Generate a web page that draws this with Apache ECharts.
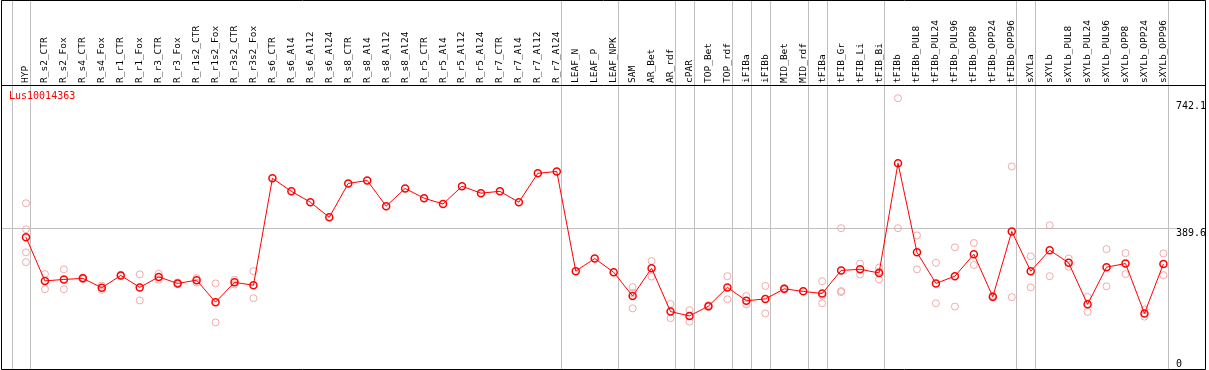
<!DOCTYPE html>
<html>
<head>
<meta charset="utf-8">
<script src="https://cdn.jsdelivr.net/npm/echarts@6/dist/echarts.min.js"></script>
<style>
    html, body { margin: 0; padding: 0; background: #fff; }
    #chart { width: 1209px; height: 370px; }
</style>
</head>
<body>
<div id="chart"></div>
<script>
// 样本名称
var categories = ['HYP','R_s2_CTR','R_s2_Fox','R_s4_CTR','R_s4_Fox','R_r1_CTR','R_r1_Fox','R_r3_CTR','R_r3_Fox',
    'R_r1s2_CTR','R_r1s2_Fox','R_r3s2_CTR','R_r3s2_Fox','R_s6_CTR','R_s6_Al4','R_s6_Al12','R_s6_Al24',
    'R_s8_CTR','R_s8_Al4','R_s8_Al12','R_s8_Al24','R_r5_CTR','R_r5_Al4','R_r5_Al12','R_r5_Al24',
    'R_r7_CTR','R_r7_Al4','R_r7_Al12','R_r7_Al24','LEAF_N','LEAF_P','LEAF_NPK','SAM','AR_Bet','AR_rdf',
    'cPAR','TOP_Bet','TOP_rdf','iFIBa','iFIBb','MID_Bet','MID_rdf','tFIBa','tFIB_Gr','tFIB_Li','tFIB_Bi',
    'tFIBb','tFIBb_PUL8','tFIBb_PUL24','tFIBb_PUL96','tFIBb_OPP8','tFIBb_OPP24','tFIBb_OPP96',
    'sXYLa','sXYLb','sXYLb_PUL8','sXYLb_PUL24','sXYLb_PUL96','sXYLb_OPP8','sXYLb_OPP24','sXYLb_OPP96'];
// 每组最后一个样本 (分隔线)
var groupEnds = ['HYP','R_r7_Al24','LEAF_NPK','AR_rdf','cPAR','TOP_rdf','iFIBa','iFIBb','MID_rdf',
    'tFIBa','tFIB_Bi','tFIBb_OPP96','sXYLa','sXYLb_OPP96'];
var geneName = 'Lus10014363';
// 平均值
var meanValues = [365,244,248,251,225,259,226,255,237,246,185,240,232,528,492,462,420,514,522,451,500,
    473,457,506,487,492,462,542,547,271,306,268,202,279,159,147,174,226,189,194,222,215,209,273,276,266,
    570,323,237,257,318,200,381,271,329,294,179,282,292,154,291];
// 重复值
var rep1 = [459,263,276,253,231,261,262,264,240,252,237,247,271,null,null,null,null,null,null,null,null,
    null,null,null,null,null,null,null,null,null,null,null,227,299,180,163,177,257,202,230,224,null,243,390,292,281,
    750,370,294,337,349,203,561,312,398,306,200,332,321,165,320];
var rep2 = [387,221,221,249,219,258,190,247,235,239,129,234,196,null,null,null,null,null,null,null,null,
    null,null,null,null,null,null,null,null,null,null,null,168,256,141,131,172,193,179,154,220,null,182,216,262,248,
    390,276,182,173,288,198,199,226,257,283,158,229,263,145,260];
var rep3 = [323,null,null,null,null,null,null,null,null,null,null,null,null,null,null,null,null,null,null,null,null,
    null,null,null,null,null,null,null,null,null,null,null,210,null,null,null,null,null,null,null,null,null,203,213,null,270,
    null,null,null,null,null,null,null,null,null,null,null,null,null,null,null];
var rep4 = [296,null,null,null,null,null,null,null,null,null,null,null,null,null,null,null,null,null,null,null,null,
    null,null,null,null,null,null,null,null,null,null,null,null,null,null,null,null,null,null,null,null,null,null,null,null,null,
    null,null,null,null,null,null,null,null,null,null,null,null,null,null,null];
var refValue = 389.6;
var tickValues = [389.6, 742.1];
var yMax = 786.5;

var monoFont = 'DejaVu Sans Mono';

function buildReps() {
    var pts = [];
    [rep1, rep2, rep3, rep4].forEach(function (arr) {
        arr.forEach(function (v, i) {
            if (v !== null) pts.push([categories[i], v]);
        });
    });
    return pts;
}

var chart = echarts.init(document.getElementById('chart'), null, {renderer: 'canvas'});

var option = {
    animation: false,
    backgroundColor: '#fff',
    title: {
        text: geneName,
        left: 9, top: 91, padding: 0,
        textStyle: {color: '#ff0000', fontSize: 10, fontWeight: 'normal', fontFamily: monoFont}
    },
    grid: {left: 16.5, right: 33.5, top: 85, bottom: 1},
    xAxis: {
        type: 'category',
        position: 'top',
        data: categories,
        boundaryGap: true,
        axisLine: {show: false},
        axisTick: {show: false},
        splitLine: {show: false},
        axisLabel: {
            interval: 0,
            rotate: 90,
            margin: 2,
            color: '#000',
            fontSize: 9.5,
            fontFamily: monoFont
        }
    },
    yAxis: [{
        type: 'value',
        position: 'right',
        min: 0, max: yMax,
        axisLine: {show: false},
        axisTick: {show: false},
        splitLine: {show: false},
        axisLabel: {
            customValues: tickValues,
            margin: 3,
            verticalAlign: 'top',
            color: '#000',
            fontSize: 10,
            fontFamily: monoFont
        }
    }, {
        type: 'value',
        position: 'right',
        min: 0, max: yMax,
        axisLine: {show: false},
        axisTick: {show: false},
        splitLine: {show: false},
        axisLabel: {
            customValues: [0],
            margin: 3,
            verticalAlign: 'bottom',
            color: '#000',
            fontSize: 10,
            fontFamily: monoFont
        }
    }],
    series: [{
        name: 'reps',
        type: 'scatter',
        data: buildReps(),
        symbol: 'circle',
        symbolSize: 7,
        itemStyle: {color: 'rgba(0,0,0,0)', borderColor: '#ef9696', borderWidth: 1},
        z: 2
    }, {
        name: 'mean',
        type: 'line',
        data: meanValues,
        symbol: 'circle',
        symbolSize: 7,
        lineStyle: {color: '#ff0000', width: 1},
        itemStyle: {color: 'rgba(255,0,0,0)', borderColor: '#ff0000', borderWidth: 1.5},
        z: 3
    }]
};
chart.setOption(option);

// 分隔线、边框
var step = chart.convertToPixel({xAxisIndex: 0}, categories[1]) - chart.convertToPixel({xAxisIndex: 0}, categories[0]);
var graphics = [];
var sepXs = [chart.convertToPixel({xAxisIndex: 0}, categories[0]) - step + 4.5];
groupEnds.forEach(function (name) {
    sepXs.push(chart.convertToPixel({xAxisIndex: 0}, name) + 4.5);
});
sepXs.forEach(function (x) {
    x = Math.round(x) + 0.5;
    graphics.push({type: 'line', shape: {x1: x, y1: 0, x2: x, y2: 369}, style: {stroke: '#c0c0c0', lineWidth: 1}, z: 1});
});
var refY = Math.round(chart.convertToPixel({yAxisIndex: 0}, refValue)) + 0.5;
graphics.push({type: 'line', shape: {x1: 1, y1: refY, x2: 1177, y2: refY}, style: {stroke: '#c0c0c0', lineWidth: 1}, z: 1});
graphics.push({type: 'line', shape: {x1: 1, y1: 85.5, x2: 1206, y2: 85.5}, style: {stroke: '#000', lineWidth: 1}, z: 5});
graphics.push({type: 'rect', shape: {x: 1.5, y: 0.5, width: 1204, height: 369}, style: {stroke: '#000', fill: null, lineWidth: 1}, z: 5});
chart.setOption({graphic: graphics});
</script>
</body>
</html>
